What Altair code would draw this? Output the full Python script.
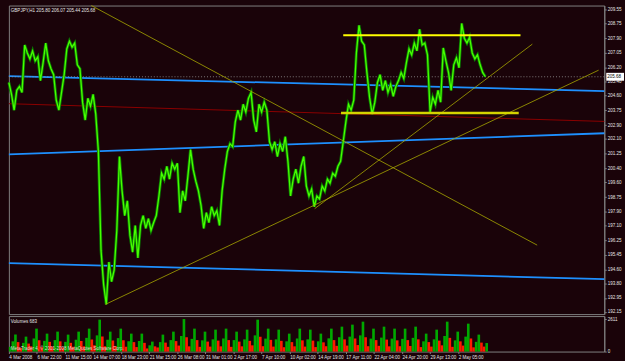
import altair as alt
import pandas as pd

# ---------------- data ----------------
BARS_PER_SAMPLE = 6  # hourly bars between samples

close = [
    205.35, 204.67, 203.76, 204.90, 205.12, 204.78, 207.51, 207.05, 206.71, 207.17,
    206.60, 206.83, 205.46, 206.49, 207.62, 206.60, 206.14, 205.80, 204.33, 203.76,
    204.78, 205.80, 207.28, 207.73, 207.39, 207.62, 206.37, 206.14, 204.22, 203.19,
    204.44, 203.99, 204.67, 203.53, 201.38, 195.70, 193.72, 192.58, 195.02, 193.89,
    194.57, 196.84, 201.09, 199.11, 197.69, 198.54, 196.55, 195.59, 197.12, 195.25,
    197.12, 197.69, 196.95, 197.52, 196.84, 197.29, 197.69, 198.82, 200.13, 199.79,
    200.53, 199.79, 200.70, 200.36, 200.70, 197.86, 199.11, 198.54, 199.96, 201.49,
    200.36, 199.67, 199.11, 198.26, 196.95, 197.86, 197.29, 198.20, 197.69, 197.97,
    197.12, 199.11, 200.36, 201.38, 201.83, 201.66, 203.08, 203.76, 203.19, 204.10,
    203.65, 204.44, 204.78, 203.19, 202.51, 204.10, 203.65, 204.22, 203.76, 201.94,
    201.49, 201.94, 201.09, 201.83, 201.38, 202.23, 200.81, 198.82, 199.79, 200.36,
    199.56, 200.53, 201.09, 199.39, 198.82, 199.22, 198.20, 198.82, 198.65, 199.39,
    199.11, 199.79, 199.56, 200.13, 199.96, 200.53, 200.81, 201.94, 203.08, 204.10,
    203.76, 204.33, 207.05, 208.64, 207.73, 207.51, 205.92, 204.50, 203.53, 204.22,
    205.35, 205.80, 204.90, 205.46, 204.78, 205.24, 204.56, 205.12, 205.46, 205.92,
    205.58, 206.49, 207.28, 206.94, 207.62, 207.17, 208.41, 207.51, 207.62, 206.94,
    203.65, 204.50, 204.10, 204.90, 204.22, 207.34, 206.60, 205.92, 204.90, 206.37,
    206.77, 206.20, 208.75, 207.90, 207.62, 207.96, 207.05, 206.71, 206.94, 206.37,
    205.92, 205.68,
]

volume = [
    380, 820, 1360, 760, 300, 700, 1200, 640, 420, 1050, 1840, 900,
    350, 860, 1440, 780, 400, 920, 1600, 820, 330, 780, 1360, 700,
    380, 950, 1600, 850, 420, 1100, 1840, 960, 500, 1300, 2560, 1200,
    420, 950, 1600, 880, 450, 1080, 1840, 900, 380, 820, 1440, 760,
    360, 850, 1440, 700, 250, 500, 800, 420, 330, 760, 1360, 720,
    380, 920, 1600, 840, 480, 1250, 2611, 1150, 420, 1020, 1840, 920,
    380, 900, 1600, 800, 400, 980, 1760, 880, 420, 1050, 1840, 920,
    380, 920, 1600, 800, 420, 980, 1760, 860, 500, 1300, 2560, 1180,
    430, 1040, 1840, 940, 400, 980, 1760, 860, 350, 820, 1440, 760,
    420, 1050, 1840, 900, 400, 980, 1760, 880, 360, 820, 1440, 740,
    430, 1060, 1840, 920, 460, 1150, 2000, 980, 480, 1200, 2160, 1050,
    520, 1300, 2400, 1150, 430, 1040, 1840, 920, 460, 1120, 2000, 960,
    420, 1040, 1840, 900, 430, 1020, 1840, 920, 450, 1100, 2000, 980,
    360, 820, 1440, 760, 400, 980, 1760, 880, 500, 1250, 2400, 1100,
    380, 900, 1600, 820, 480, 1200, 2240, 1050, 340, 780, 1360, 720,
    400, 683,
]

date_labels = [
    "4 Mar 2008", "6 Mar 22:00", "11 Mar 15:00", "14 Mar 07:00", "18 Mar 23:00",
    "21 Mar 15:00", "26 Mar 08:00", "31 Mar 01:00", "2 Apr 17:00", "7 Apr 10:00",
    "10 Apr 02:00", "14 Apr 19:00", "17 Apr 11:00", "22 Apr 04:00", "24 Apr 20:00",
    "29 Apr 13:00", "2 May 05:00",
]
BARS_PER_LABEL = 64

price_ticks = [
    209.55, 208.75, 207.90, 207.05, 206.20, 205.40, 204.60, 203.75, 202.90, 202.10,
    201.25, 200.40, 199.60, 198.75, 197.90, 197.10, 196.25, 195.45, 194.60, 193.80,
    192.95, 192.15,
]
volume_ticks = [0, 2611]

# drawn objects (time in bars, price)
line_names = ["blue1", "blue2", "blue3", "red", "down", "up1", "up2", "top", "bottom"]
line_bar1 = [0, 0, 0, 0, 188, 220, 697, 762, 757]
line_price1 = [205.72, 201.21, 194.96, 204.13, 209.78, 192.58, 198.09, 208.07, 203.59]
line_bar2 = [1357, 1357, 1357, 1357, 1204, 1344, 1193, 1166, 1162]
line_price2 = [204.86, 202.43, 194.03, 203.11, 195.99, 206.06, 207.56, 208.07, 203.59]

title_text = "GBPJPY,H1  205.80 206.07 205.44 205.68"
bid_price = 205.68
volume_title = "Volumes 683"
copyright_text = "MetaTrader 4, \u00a9 2001-2008 MetaQuotes Software Corp."

# ---------------- styling ----------------
BG = "#1a0309"
GRAY = "#808080"
TXT = "#e6e6e6"
FONT = "Liberation Sans"
FS = 4.6
W = 604
H_MAIN = 313
H_VOL = 36
X_DOMAIN = [0, 1357]
Y_DOMAIN = [192.02, 209.78]
V_DOMAIN = [0, 2848]

line_styles = {
    "blue1": ("#1e90ff", 1.8),
    "blue2": ("#1e90ff", 1.8),
    "blue3": ("#1e90ff", 1.8),
    "red": ("#8b0000", 1.0),
    "down": ("#a8a800", 0.8),
    "up1": ("#a8a800", 0.8),
    "up2": ("#a8a800", 0.8),
    "top": ("#ffff00", 1.8),
    "bottom": ("#d4d400", 2.6),
}

# ---------------- tables ----------------
n = len(close)
price_df = pd.DataFrame({"bar": [i * BARS_PER_SAMPLE for i in range(n)], "close": close})
vol_df = pd.DataFrame({
    "bar": [i * BARS_PER_SAMPLE for i in range(len(volume))],
    "bar_end": [(i + 1) * BARS_PER_SAMPLE for i in range(len(volume))],
    "volume": volume,
})
vol_df["dir"] = ["up" if i == 0 or volume[i] >= volume[i - 1] else "down" for i in range(len(volume))]
lines_df = pd.DataFrame({
    "name": line_names, "b1": line_bar1, "p1": line_price1, "b2": line_bar2, "p2": line_price2,
})

xs = alt.Scale(domain=X_DOMAIN, nice=False, zero=False)
ys = alt.Scale(domain=Y_DOMAIN, nice=False, zero=False)

yaxis = alt.Axis(orient="right", values=price_ticks, format=".2f", tickSize=2,
                 labelPadding=1, minExtent=19, maxExtent=19, title=None,
                 labelFontSize=FS, labelFont=FONT, labelColor=TXT,
                 domainColor=GRAY, tickColor=GRAY, grid=False, labelOverlap=False)

base_lines = alt.Chart(lines_df)
layers = []
for nm in line_names:
    col, sw = line_styles[nm]
    layers.append(
        base_lines.transform_filter(alt.datum.name == nm).mark_rule(color=col, strokeWidth=sw).encode(
            x=alt.X("b1:Q", scale=xs, axis=None),
            x2="b2:Q",
            y=alt.Y("p1:Q", scale=ys, axis=yaxis),
            y2="p2:Q",
        )
    )

bid_line = alt.Chart(pd.DataFrame({"p": [bid_price]})).mark_rule(
    color="#9a9a9a", strokeWidth=0.8, strokeDash=[1, 2]
).encode(y=alt.Y("p:Q", scale=ys, axis=yaxis))

price_enc = dict(
    x=alt.X("bar:Q", scale=xs, axis=None),
    y=alt.Y("close:Q", scale=ys, axis=yaxis),
)
price_shadow = alt.Chart(price_df).mark_line(color="#0b7a00", strokeWidth=3.0, strokeJoin="miter").encode(**price_enc)
price_line = alt.Chart(price_df).mark_line(color="#48ff00", strokeWidth=1.3).encode(**price_enc)

bid_box = alt.Chart(pd.DataFrame({"p": [bid_price]})).mark_tick(
    orient="horizontal", color="#ffffff", size=18, thickness=8, opacity=1
).encode(x=alt.value(W + 11), y=alt.Y("p:Q", scale=ys, axis=yaxis))

bid_text = alt.Chart(pd.DataFrame({"p": [bid_price], "t": [f"{bid_price:.2f}"]})).mark_text(
    align="left", baseline="middle", font=FONT, fontSize=FS, color="#000000"
).encode(x=alt.value(W + 3), y=alt.Y("p:Q", scale=ys, axis=yaxis), text="t:N")

title_mark = alt.Chart(pd.DataFrame({"t": [title_text]})).mark_text(
    align="left", baseline="top", font=FONT, fontSize=FS, color=TXT
).encode(x=alt.value(2), y=alt.value(3), text="t:N")

main = alt.layer(
    *layers[:4], bid_line, price_shadow, price_line, *layers[4:], bid_box, bid_text, title_mark
).properties(width=W, height=H_MAIN)

label_expr = "[" + ",".join(f"'{s}'" for s in date_labels) + f"][round(datum.value/{BARS_PER_LABEL})]"
xaxis = alt.Axis(values=[BARS_PER_LABEL * k for k in range(len(date_labels))], labelExpr=label_expr,
                 labelAlign="left", labelBaseline="top", labelPadding=1, tickSize=2,
                 domain=False, labelOverlap=False, labelBound=False, labelFlush=False,
                 minExtent=10, maxExtent=10, title=None,
                 labelFontSize=FS, labelFont=FONT, labelColor=TXT, tickColor=GRAY, grid=False)

vaxis = alt.Axis(orient="right", values=volume_ticks, tickSize=2, labelPadding=1,
                 minExtent=19, maxExtent=19, title=None, format="d",
                 labelFontSize=FS, labelFont=FONT, labelColor=TXT,
                 domainColor=GRAY, tickColor=GRAY, grid=False)

vol_bars = alt.Chart(vol_df).mark_rect(strokeWidth=0).encode(
    x=alt.X("bar:Q", scale=xs, axis=xaxis),
    x2="bar_end:Q",
    y=alt.Y("volume:Q", scale=alt.Scale(domain=V_DOMAIN, nice=False), axis=vaxis),
    y2=alt.datum(0),
    color=alt.Color("dir:N", scale=alt.Scale(domain=["up", "down"], range=["#00a800", "#ff1a00"]), legend=None),
)

vol_title = alt.Chart(pd.DataFrame({"t": [volume_title]})).mark_text(
    align="left", baseline="top", font=FONT, fontSize=FS, color=TXT
).encode(x=alt.value(2), y=alt.value(3), text="t:N")

copyright_mark = alt.Chart(pd.DataFrame({"t": [copyright_text]})).mark_text(
    align="left", baseline="bottom", font=FONT, fontSize=FS, color="#d8d8d8"
).encode(x=alt.value(2), y=alt.value(H_VOL - 1), text="t:N")

vol = alt.layer(vol_bars, vol_title, copyright_mark).properties(width=W, height=H_VOL)

chart = alt.vconcat(main, vol, spacing=0).properties(
    padding={"left": 2, "top": 2, "right": 0, "bottom": 0}
).configure(background=BG).configure_view(stroke=GRAY, strokeWidth=1)

chart.save("out.html", embed_options={"renderer": "svg", "actions": False})
